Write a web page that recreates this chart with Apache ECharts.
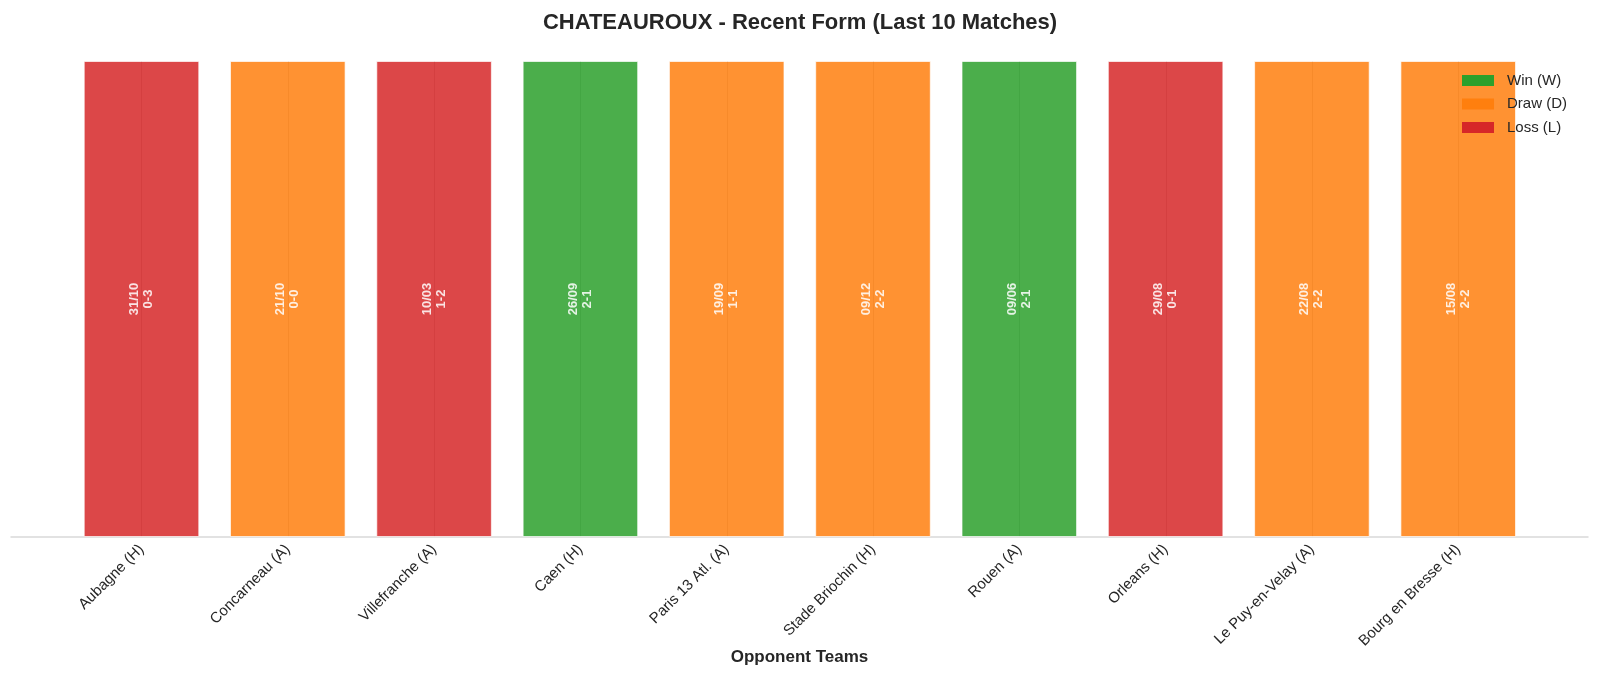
<!DOCTYPE html>
<html>
<head>
<meta charset="utf-8">
<script src="https://cdn.jsdelivr.net/npm/echarts@6/dist/echarts.min.js"></script>
<style>
html,body{margin:0;padding:0;background:#fff;}
#chart{width:1600px;height:679px;}
</style>
</head>
<body>
<div id="chart"></div>
<script>
const teams = ['Aubagne (H)','Concarneau (A)','Villefranche (A)','Caen (H)','Paris 13 Atl. (A)','Stade Briochin (H)','Rouen (A)','Orleans (H)','Le Puy-en-Velay (A)','Bourg en Bresse (H)'];
const results = ['L','D','L','W','D','D','W','L','D','D'];
const dates = ['31/10','21/10','10/03','26/09','19/09','09/12','09/06','29/08','22/08','15/08'];
const scores = ['0-3','0-0','1-2','2-1','1-1','2-2','2-1','0-1','2-2','2-2'];
const barHeights = [1,1,1,1,1,1,1,1,1,1];
const resultNames = {W:'Win (W)', D:'Draw (D)', L:'Loss (L)'};
const resultColors = {W:'#2ca02c', D:'#ff7f0e', L:'#d62728'};
const order = ['W','D','L'];

const FONT = '"Liberation Sans", Arial, Helvetica, sans-serif';

const chart = echarts.init(document.getElementById('chart'));

const barSeries = order.map(r => ({
  name: resultNames[r],
  type: 'bar',
  stack: 'form',
  xAxisIndex: 0,
  yAxisIndex: 0,
  barWidth: '79%',
  z: 3,
  itemStyle: {color: resultColors[r], opacity: 0.85, borderColor: 'rgba(255,255,255,0.8)', borderWidth: 1},
  label: {
    show: true,
    position: 'inside',
    rotate: 90,
    color: '#fff',
    fontWeight: 'bold',
    fontSize: 13,
    lineHeight: 14,
    fontFamily: FONT,
    formatter: p => dates[p.dataIndex] + '\n' + scores[p.dataIndex]
  },
  data: results.map((res, i) => res === r ? barHeights[i] : '-')
}));

const option = {
  animation: false,
  backgroundColor: '#fff',
  title: {
    text: 'CHATEAUROUX - Recent Form (Last 10 Matches)',
    left: 'center',
    top: 7,
    textStyle: {fontFamily: FONT, fontSize: 22, fontWeight: 'bold', color: '#262626'}
  },
  legend: {
    data: order.map(r => resultNames[r]),
    orient: 'vertical',
    right: 28,
    top: 68,
    itemWidth: 32,
    itemHeight: 11,
    itemGap: 8.5,
    icon: 'rect',
    itemStyle: {opacity: 1, borderWidth: 0},
    textStyle: {fontFamily: FONT, fontSize: 15, color: '#262626', padding: [0,0,0,8]}
  },
  grid: [
    {left: 68.35, width: 1463, top: 61, bottom: 142, containLabel: false},
    {left: 11, right: 12, top: 61, bottom: 142, containLabel: false},
    {left: 141.5, width: 1317, top: 61, bottom: 142, containLabel: false}
  ],
  xAxis: [
    {
      type: 'category',
      gridIndex: 0,
      data: teams,
      boundaryGap: true,
      axisLine: {show: false},
      axisTick: {show: false},
      splitLine: {show: false},
      axisLabel: {rotate: 45, margin: 10, fontFamily: FONT, fontSize: 15, color: '#262626', interval: 0}
    },
    {
      type: 'value',
      gridIndex: 1,
      min: 0,
      max: 1,
      axisLine: {show: true, lineStyle: {color: '#d9d9d9', width: 1.5}},
      axisTick: {show: false},
      axisLabel: {show: false},
      splitLine: {show: false},
      name: 'Opponent Teams',
      nameLocation: 'middle',
      nameGap: 112,
      nameTextStyle: {fontFamily: FONT, fontSize: 17, fontWeight: 'bold', color: '#262626'}
    },
    {
      type: 'category',
      gridIndex: 2,
      data: teams,
      boundaryGap: false,
      axisLine: {show: false},
      axisTick: {show: false},
      axisLabel: {show: false},
      splitLine: {show: true, interval: 0, lineStyle: {color: '#c8c8c8', width: 1}}
    }
  ],
  yAxis: [
    {type: 'value', gridIndex: 0, min: 0, max: 1, show: false},
    {type: 'value', gridIndex: 1, min: 0, max: 1, show: false},
    {type: 'value', gridIndex: 2, min: 0, max: 1, show: false}
  ],
  series: barSeries
};

chart.setOption(option);
</script>
</body>
</html>
